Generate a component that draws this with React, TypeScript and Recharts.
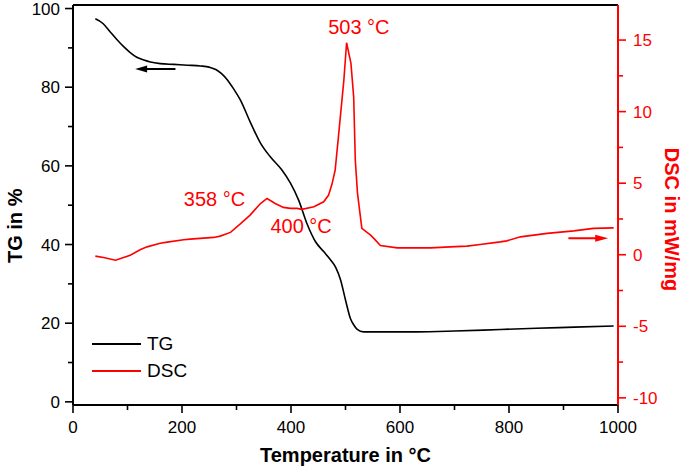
import React from "react";
import { LineChart, Line, XAxis, YAxis, ReferenceLine, ReferenceDot } from "recharts";

// TG curve (temperature in °C, mass in %)
const tgTemps = [41, 55, 68, 80, 93, 105, 117, 130, 142, 160, 185, 210, 234, 250, 262, 272, 283, 295, 307, 325, 344, 362, 383, 399, 414, 429, 445, 460, 472, 482, 491, 500, 509, 515, 521, 533, 560, 631, 700, 784, 850, 920, 992];
const tgValues = [97.4, 96.2, 94.1, 92.2, 90.3, 88.8, 87.6, 86.9, 86.4, 86.0, 85.8, 85.6, 85.4, 85.1, 84.5, 83.5, 81.9, 79.5, 76.8, 71.2, 65.8, 62.3, 59.0, 55.6, 51.3, 45.4, 40.7, 38.2, 36.2, 34.2, 31.0, 25.9, 21.2, 19.6, 18.5, 17.8, 17.8, 17.8, 18.0, 18.4, 18.7, 19.0, 19.3];

// DSC curve (temperature in °C, heat flow in mW/mg)
const dscTemps = [41, 56, 78, 105, 124, 136, 160, 173, 203, 215, 258, 270, 289, 307, 325, 344, 356, 371, 386, 399, 411, 420, 442, 460, 469, 475, 481, 487, 497, 502, 510, 515, 518, 522, 530, 546, 552, 564, 595, 656, 692, 723, 747, 784, 796, 821, 870, 919, 955, 992];
const dscValues = [-0.1, -0.19, -0.38, -0.03, 0.37, 0.55, 0.8, 0.88, 1.05, 1.09, 1.21, 1.3, 1.56, 2.15, 2.77, 3.58, 3.93, 3.58, 3.31, 3.24, 3.24, 3.17, 3.35, 3.7, 4.17, 4.9, 5.9, 8.24, 12.2, 14.81, 13.37, 11.03, 6.6, 4.3, 1.84, 1.37, 1.14, 0.64, 0.48, 0.48, 0.55, 0.6, 0.72, 0.9, 0.97, 1.25, 1.49, 1.67, 1.84, 1.88];

const xTicks = [0, 100, 200, 300, 400, 500, 600, 700, 800, 900, 1000];
const tgTicks = [0, 10, 20, 30, 40, 50, 60, 70, 80, 90, 100];
const dscTicks = [-10, -7.5, -5, -2.5, 0, 2.5, 5, 7.5, 10, 12.5, 15];

const peakLabels = [
  { text: "358 °C", t: 259.6, v: 3.92 },
  { text: "400 °C", t: 418.6, v: 1.98 },
  { text: "503 °C", t: 524.5, v: 15.92 },
];

const tgArrow = { from: 114, to: 188, v: 84.6 };
const dscArrow = { from: 909, to: 982, v: 1.16 };

const series = [
  { name: "TG", color: "#000000" },
  { name: "DSC", color: "#ff0000" },
];

const tgData = tgTemps.map((t, i) => ({ t, v: tgValues[i] }));
const dscData = dscTemps.map((t, i) => ({ t, v: dscValues[i] }));

const FONT = "Arial, 'Liberation Sans', sans-serif";
const RED = "#ff0000";

function XTick({ x, y, payload }: any) {
  const major = payload.value % 200 === 0;
  return (
    <g>
      <line x1={x} x2={x} y1={y} y2={y + (major ? 8 : 5)} stroke="#000" strokeWidth={1.6} />
      {major && (
        <text x={x} y={y + 28} textAnchor="middle" fontSize={17} fontFamily={FONT} fill="#000">
          {payload.value}
        </text>
      )}
    </g>
  );
}

function TgTick({ x, y, payload }: any) {
  const major = payload.value % 20 === 0;
  return (
    <g>
      <line x1={x} x2={x - (major ? 8 : 5)} y1={y} y2={y} stroke="#000" strokeWidth={1.6} />
      {major && (
        <text x={x - 13} y={y} dy="0.355em" textAnchor="end" fontSize={17} fontFamily={FONT} fill="#000">
          {payload.value}
        </text>
      )}
    </g>
  );
}

function DscTick({ x, y, payload }: any) {
  const major = payload.value % 5 === 0;
  return (
    <g>
      <line x1={x} x2={x + (major ? 8 : 5)} y1={y} y2={y} stroke={RED} strokeWidth={1.6} />
      {major && (
        <text x={x + 15} y={y} dy="0.355em" textAnchor="start" fontSize={17} fontFamily={FONT} fill={RED}>
          {payload.value}
        </text>
      )}
    </g>
  );
}

// axis title placed inside the axis box; "rot" avoids Label's own angle prop
function AxisTitle({ viewBox, title, offX, offY, rot, tint }: any) {
  const x = viewBox.x + offX;
  const y = viewBox.y + offY;
  return (
    <text
      x={x}
      y={y}
      textAnchor="middle"
      fontSize={20}
      fontWeight="bold"
      fontFamily={FONT}
      fill={tint}
      transform={rot ? `rotate(${rot}, ${x}, ${y})` : undefined}
    >
      {title}
    </text>
  );
}

function renderArrow(p: any, dir: "left" | "right", color: string) {
  const { x1, y1, x2 } = p;
  const left = Math.min(x1, x2);
  const right = Math.max(x1, x2);
  const y = y1;
  if (dir === "left") {
    return (
      <g>
        <line x1={left + 8} x2={right} y1={y} y2={y} stroke={color} strokeWidth={2} />
        <polygon points={`${left},${y} ${left + 12},${y - 3.5} ${left + 12},${y + 3.5}`} fill={color} />
      </g>
    );
  }
  return (
    <g>
      <line x1={left} x2={right - 8} y1={y} y2={y} stroke={color} strokeWidth={2} />
      <polygon points={`${right},${y} ${right - 13},${y - 3.5} ${right - 13},${y + 3.5}`} fill={color} />
    </g>
  );
}

function PeakText({ cx, cy, text }: any) {
  return (
    <text x={cx} y={cy} dy="0.355em" textAnchor="middle" fontSize={20} fontFamily={FONT} fill={RED}>
      {text}
    </text>
  );
}

export default function App() {
  return (
    <div style={{ position: "absolute", left: 0, top: 0, width: 685, height: 473, background: "#fff", fontFamily: FONT }}>
      <LineChart width={685} height={473} margin={{ top: 5, right: 0, bottom: 0, left: 0 }}>
        <XAxis
          dataKey="t"
          type="number"
          domain={[0, 1000]}
          ticks={xTicks}
          interval={0}
          height={68}
          tickSize={0}
          tickMargin={0}
          tickLine={false}
          tick={<XTick />}
          axisLine={{ stroke: "#000", strokeWidth: 2 }}
          allowDataOverflow
          label={<AxisTitle title="Temperature in °C" offX={272.5} offY={57} tint="#000" />}
        />
        <YAxis
          yAxisId="tg"
          type="number"
          domain={[-0.8, 100.9]}
          ticks={tgTicks}
          interval={0}
          width={73}
          tickSize={0}
          tickMargin={0}
          tickLine={false}
          tick={<TgTick />}
          axisLine={{ stroke: "#000", strokeWidth: 2 }}
          allowDataOverflow
          label={<AxisTitle title="TG in %" offX={21.7} offY={220.8} rot={-90} tint="#000" />}
        />
        <YAxis
          yAxisId="dsc"
          orientation="right"
          type="number"
          domain={[-10.5, 17.45]}
          ticks={dscTicks}
          interval={0}
          width={67}
          tickSize={0}
          tickMargin={0}
          tickLine={false}
          tick={<DscTick />}
          axisLine={{ stroke: RED, strokeWidth: 2 }}
          allowDataOverflow
          label={<AxisTitle title="DSC in mW/mg" offX={47} offY={214.5} rot={90} tint={RED} />}
        />
        <ReferenceLine yAxisId="tg" y={100.9} stroke="#000" strokeWidth={2} />
        <Line
          data={tgData}
          dataKey="v"
          yAxisId="tg"
          type="monotone"
          stroke={series[0].color}
          strokeWidth={1.6}
          dot={false}
          isAnimationActive={false}
        />
        <Line
          data={dscData}
          dataKey="v"
          yAxisId="dsc"
          type="linear"
          stroke={series[1].color}
          strokeWidth={1.6}
          dot={false}
          isAnimationActive={false}
        />
        <ReferenceLine
          yAxisId="tg"
          segment={[{ x: tgArrow.from, y: tgArrow.v }, { x: tgArrow.to, y: tgArrow.v }]}
          shape={(p: any) => renderArrow(p, "left", "#000")}
        />
        <ReferenceLine
          yAxisId="dsc"
          segment={[{ x: dscArrow.from, y: dscArrow.v }, { x: dscArrow.to, y: dscArrow.v }]}
          shape={(p: any) => renderArrow(p, "right", RED)}
        />
        {peakLabels.map((l) => (
          <ReferenceDot
            key={l.text}
            yAxisId="dsc"
            x={l.t}
            y={l.v}
            r={0}
            shape={(p: any) => <PeakText cx={p.cx} cy={p.cy} text={l.text} />}
          />
        ))}
      </LineChart>
      <div style={{ position: "absolute", left: 92, top: 330 }}>
        {series.map((s) => (
          <div key={s.name} style={{ display: "flex", alignItems: "center", height: 27 }}>
            <span style={{ display: "inline-block", width: 49, height: 2, background: s.color, marginRight: 6 }} />
            <span style={{ fontSize: 19, lineHeight: "27px", color: "#000" }}>{s.name}</span>
          </div>
        ))}
      </div>
    </div>
  );
}
